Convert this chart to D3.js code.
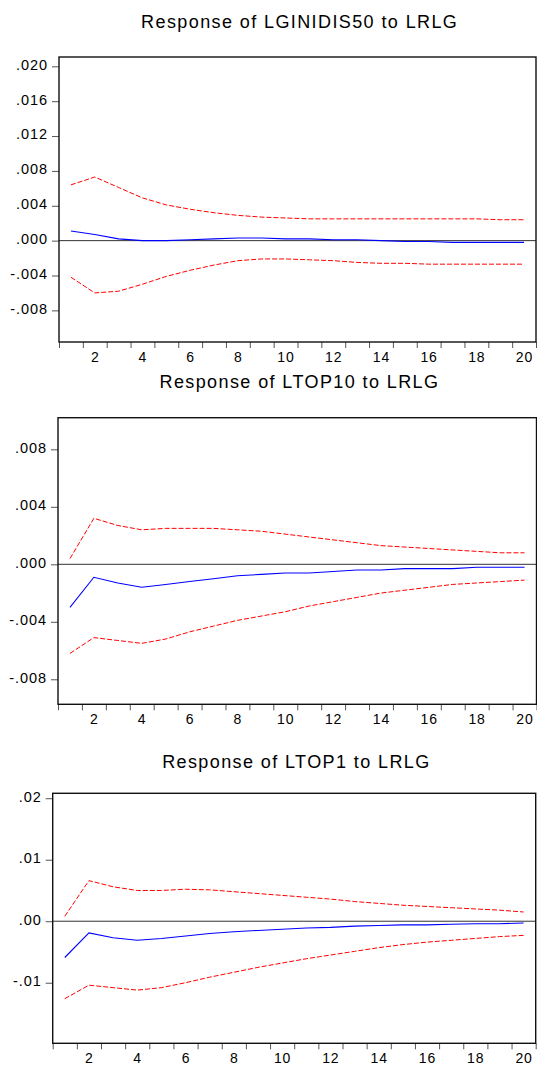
<!DOCTYPE html>
<html>
<head>
<meta charset="utf-8">
<script src="https://cdn.jsdelivr.net/npm/d3@7"></script>
<style>
  html, body { margin: 0; padding: 0; background: #fff; }
  svg { display: block; }
  text { font-family: Arial, "Liberation Sans", sans-serif; fill: #000; }
</style>
</head>
<body>
<svg id="chart" width="537" height="1067"></svg>
<script>
// ---------- data ----------
const periods = [1,2,3,4,5,6,7,8,9,10,11,12,13,14,15,16,17,18,19,20];
const xTickLabels = ["2","4","6","8","10","12","14","16","18","20"];
const xTickPeriods = [2,4,6,8,10,12,14,16,18,20];

const titles = [
  "Response of LGINIDIS50 to LRLG",
  "Response of LTOP10 to LRLG",
  "Response of LTOP1 to LRLG"
];

// Panel 1: LGINIDIS50
const resp1  = [0.0011,0.0007,0.0002,0.0000,0.0000,0.0001,0.0002,0.0003,0.0003,0.0002,0.0002,0.0001,0.0001,0.0000,-0.0001,-0.0001,-0.0002,-0.0002,-0.0002,-0.0002];
const upper1 = [0.0064,0.0073,0.0061,0.0049,0.0041,0.0036,0.0032,0.0029,0.0027,0.0026,0.0025,0.0025,0.0025,0.0025,0.0025,0.0025,0.0025,0.0025,0.0024,0.0024];
const lower1 = [-0.0042,-0.0060,-0.0058,-0.0050,-0.0041,-0.0034,-0.0028,-0.0023,-0.0021,-0.0021,-0.0022,-0.0023,-0.0025,-0.0026,-0.0026,-0.0027,-0.0027,-0.0027,-0.0027,-0.0027];
const yTicks1 = [-0.008,-0.004,0,0.004,0.008,0.012,0.016,0.020];
const yTickLabels1 = ["-.008","-.004",".000",".004",".008",".012",".016",".020"];
const yDomain1 = [-0.01163, 0.02107];

// Panel 2: LTOP10
const resp2  = [-0.0030,-0.0009,-0.0013,-0.0016,-0.0014,-0.0012,-0.0010,-0.0008,-0.0007,-0.0006,-0.0006,-0.0005,-0.0004,-0.0004,-0.0003,-0.0003,-0.0003,-0.0002,-0.0002,-0.0002];
const upper2 = [0.0004,0.0032,0.0027,0.0024,0.0025,0.0025,0.0025,0.0024,0.0023,0.0021,0.0019,0.0017,0.0015,0.0013,0.0012,0.0011,0.0010,0.0009,0.0008,0.0008];
const lower2 = [-0.0062,-0.0051,-0.0053,-0.0055,-0.0052,-0.0047,-0.0043,-0.0039,-0.0036,-0.0033,-0.0029,-0.0026,-0.0023,-0.0020,-0.0018,-0.0016,-0.0014,-0.0013,-0.0012,-0.0011];
const yTicks2 = [-0.008,-0.004,0,0.004,0.008];
const yTickLabels2 = ["-.008","-.004",".000",".004",".008"];
const yDomain2 = [-0.00974, 0.0102];

// Panel 3: LTOP1
const resp3  = [-0.0059,-0.0019,-0.0027,-0.0031,-0.0028,-0.0024,-0.0020,-0.0017,-0.0015,-0.0013,-0.0011,-0.0010,-0.0008,-0.0007,-0.0006,-0.0006,-0.0005,-0.0004,-0.0004,-0.0003];
const upper3 = [0.0008,0.0066,0.0056,0.0050,0.0050,0.0052,0.0051,0.0048,0.0045,0.0042,0.0039,0.0036,0.0032,0.0029,0.0026,0.0024,0.0022,0.0020,0.0018,0.0015];
const lower3 = [-0.0126,-0.0104,-0.0108,-0.0112,-0.0108,-0.0100,-0.0091,-0.0083,-0.0075,-0.0068,-0.0061,-0.0055,-0.0049,-0.0043,-0.0038,-0.0034,-0.0031,-0.0028,-0.0025,-0.0023];
const yTicks3 = [-0.01,0,0.01,0.02];
const yTickLabels3 = ["-.01",".00",".01",".02"];
const yDomain3 = [-0.01985, 0.0208];

// ---------- layout ----------
const panels = [
  {title: titles[0], resp: resp1, upper: upper1, lower: lower1, ticks: yTicks1, labels: yTickLabels1, domain: yDomain1,
   left: 59, right: 536, top: 57, bottom: 342, titleY: 28},
  {title: titles[1], resp: resp2, upper: upper2, lower: lower2, ticks: yTicks2, labels: yTickLabels2, domain: yDomain2,
   left: 58, right: 536.5, top: 417.7, bottom: 704.3, titleY: 388},
  {title: titles[2], resp: resp3, upper: upper3, lower: lower3, ticks: yTicks3, labels: yTickLabels3, domain: yDomain3,
   left: 52.7, right: 535.7, top: 793.3, bottom: 1043.3, titleY: 768}
];

const svg = d3.select("#chart");
const titleSpacing = 1.4;
const tickSpacing = 0.9;

panels.forEach(p => {
  const g = svg.append("g");
  const x = d3.scaleLinear().domain([0.5, periods.length + 0.5]).range([p.left, p.right]);
  const y = d3.scaleLinear().domain(p.domain).range([p.bottom, p.top]);

  // title
  g.append("text")
    .attr("x", (p.left + p.right) / 2 + 1.5 + titleSpacing / 2)
    .attr("y", p.titleY)
    .attr("text-anchor", "middle")
    .style("font-size", "18px")
    .style("letter-spacing", titleSpacing + "px")
    .text(p.title);

  // y axis ticks & labels
  const yAxis = d3.axisLeft(y)
    .tickValues(p.ticks)
    .tickFormat((d, i) => p.labels[i])
    .tickSize(7)
    .tickPadding(5 - tickSpacing);
  const ya = g.append("g").attr("transform", `translate(${p.left},0)`).call(yAxis);
  ya.select(".domain").remove();
  ya.selectAll(".tick line").attr("stroke", "#555").attr("stroke-width", 1);
  ya.selectAll(".tick text")
    .attr("dy", "0.2em")
    .style("font-size", "14.5px")
    .style("letter-spacing", tickSpacing + "px")
    .style("font-family", "Arial, 'Liberation Sans', sans-serif")
    .attr("fill", "#000");

  // x axis boundary ticks
  const boundaries = d3.range(0, periods.length + 1).map(i => i + 0.5);
  const xAxis = d3.axisBottom(x).tickValues(boundaries).tickFormat("").tickSize(6);
  const xa = g.append("g").attr("transform", `translate(0,${p.bottom})`).call(xAxis);
  xa.select(".domain").remove();
  xa.selectAll(".tick line").attr("stroke", "#555").attr("stroke-width", 1);

  // x labels at band centers
  g.selectAll(".xlab").data(xTickPeriods).enter().append("text")
    .attr("x", d => x(d) + tickSpacing / 2)
    .attr("y", p.bottom + 20)
    .attr("text-anchor", "middle")
    .style("font-size", "14px")
    .style("letter-spacing", tickSpacing + "px")
    .text((d, i) => xTickLabels[i]);

  // zero line
  g.append("line")
    .attr("x1", p.left).attr("x2", p.right)
    .attr("y1", y(0)).attr("y2", y(0))
    .attr("stroke", "#333").attr("stroke-width", 1);

  const line = d3.line().x((d, i) => x(periods[i])).y(d => y(d));

  g.append("path").datum(p.upper)
    .attr("d", line).attr("fill", "none")
    .attr("stroke", "#ff0000").attr("stroke-width", 1)
    .attr("stroke-dasharray", "5,2");
  g.append("path").datum(p.lower)
    .attr("d", line).attr("fill", "none")
    .attr("stroke", "#ff0000").attr("stroke-width", 1)
    .attr("stroke-dasharray", "5,2");
  g.append("path").datum(p.resp)
    .attr("d", line).attr("fill", "none")
    .attr("stroke", "#0000ff").attr("stroke-width", 1.1);

  // frame
  g.append("rect")
    .attr("x", p.left).attr("y", p.top)
    .attr("width", p.right - p.left).attr("height", p.bottom - p.top)
    .attr("fill", "none").attr("stroke", "#111").attr("stroke-width", 1.4);
});
</script>
</body>
</html>
